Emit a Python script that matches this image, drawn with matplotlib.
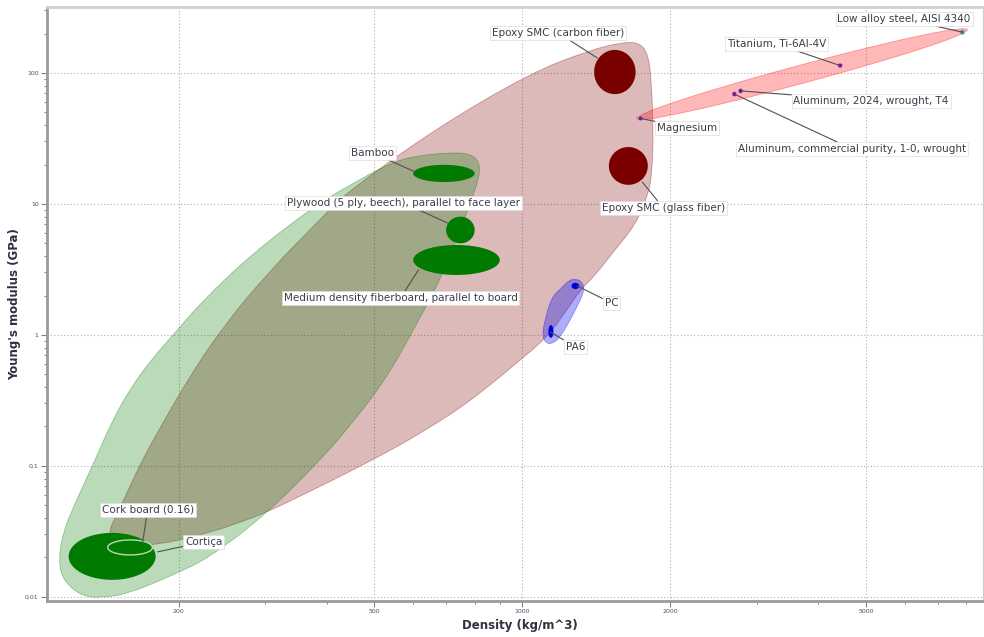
import numpy as np
import matplotlib
matplotlib.use("Agg")
import matplotlib.pyplot as plt
from matplotlib.path import Path
from matplotlib.patches import PathPatch
from matplotlib.ticker import FixedLocator, FixedFormatter, NullFormatter, LogLocator

# ---------------- axes ----------------
x_ticks = [200, 500, 1000, 2000, 5000]
x_tick_labels = ["200", "500", "1000", "2000", "5000"]
y_ticks = [0.01, 0.1, 1, 10, 100]
y_tick_labels = ["0,01", "0,1", "1", "10", "100"]
x_limits = [108, 8650]
y_limits = [0.0093, 319]

# ---------------- family envelopes (outline) ----------------
# Composites / polymers envelope (maroon)
pink_density = [142.1, 152.4, 167.4, 183.8, 208.6, 243.5, 303.3, 401.6, 441.1, 659.7,
                1038.7, 1375.2, 1605.3, 1737.8, 1804.3, 1829.8, 1847.0, 1838.5, 1804.3,
                1697.8, 1531.5, 1408.1, 1312.6, 1223.6, 1124.6, 991.1, 861.1, 748.4,
                650.5, 565.2, 491.2, 413.0, 354.0, 303.3, 258.7, 221.7, 181.3, 156.1]
pink_modulus = [0.0287, 0.0486, 0.1054, 0.1984, 0.4534, 1.092, 2.974, 8.69, 12.35, 36.7,
                100.0, 149.8, 172.4, 169.4, 137.2, 88.4, 36.7, 18.18, 11.71,
                6.91, 4.30, 2.871, 2.205, 1.498, 0.9654, 0.6444, 0.4151, 0.2772,
                0.1984, 0.1446, 0.1092, 0.0782, 0.0590, 0.04456, 0.03545, 0.02974,
                0.02493, 0.02450]

# Natural materials envelope (green)
green_density = [126.4, 116.2, 114.0, 116.2, 120.6, 134.4, 146.2, 159.7, 177.1, 199.1,
                 221.7, 280.1, 385.1, 447.3, 514.6, 584.1, 724.2, 799.0, 825.6, 799.0,
                 748.4, 681.6, 600.6, 526.8, 443.1, 383.3, 303.3, 232.3, 195.4, 157.5,
                 138.8]
green_modulus = [0.01019, 0.01349, 0.01916, 0.02974, 0.04378, 0.1054, 0.2168, 0.3938,
                 0.6675, 1.092, 1.755, 4.08, 10.18, 13.96, 18.83, 22.84, 24.95, 23.66,
                 18.83, 12.13, 6.33, 2.63, 1.092, 0.4534, 0.195, 0.1054, 0.04378,
                 0.02019, 0.01472, 0.01054, 0.00983]

# Polymers envelope (blue)
blue_density = [1246, 1288, 1325, 1337, 1313, 1252, 1195, 1151, 1114, 1098.5, 1109, 1146, 1201]
blue_modulus = [2.630, 2.676, 2.539, 2.205, 1.850, 1.302, 0.9654, 0.8537, 0.8687, 1.0,
                1.257, 1.933, 2.284]

# Metals envelope (red)
metal_env_density = [1690, 1771, 1978, 2503, 3710, 5495, 6960, 7770, 8143,
                     7770, 6960, 5495, 3710, 2503, 1978, 1771]
metal_env_modulus = [44.56, 49.53, 57.88, 76.8, 116.7, 169.4, 205.2, 219.0, 216.7,
                     195.1, 166.8, 125.7, 82.7, 56.96, 47.05, 43.6]

# ---------------- material bubbles (ranges) ----------------
mat_names = ["Cortiça", "Cork board (0.16)", "Bamboo",
             "Plywood (5 ply, beech), parallel to face layer",
             "Medium density fiberboard, parallel to board",
             "Epoxy SMC (carbon fiber)", "Epoxy SMC (glass fiber)", "PC", "PA6"]
mat_density_min = [119.5, 143.5, 600, 700, 600, 1400, 1500, 1259, 1130]
mat_density_max = [179.6, 177.0, 800, 800, 900, 1700, 1800, 1306, 1157]
mat_modulus_min = [0.0135, 0.0209, 14.7, 5.0, 2.87, 69, 14.0, 2.24, 0.95]
mat_modulus_max = [0.0308, 0.0272, 19.9, 8.0, 4.86, 150, 27.2, 2.50, 1.19]
mat_family = ["natural", "natural_hollow", "natural", "natural", "natural",
              "composite", "composite", "polymer", "polymer"]

# Metals (single values)
metal_names = ["Magnesium", "Aluminum, commercial purity, 1-0, wrought",
               "Aluminum, 2024, wrought, T4", "Titanium, Ti-6Al-4V",
               "Low alloy steel, AISI 4340"]
metal_density = [1740, 2700, 2780, 4430, 7850]
metal_modulus = [45, 69, 73, 114, 205]
metal_dot_colors = ["#7d1197", "#7d1197", "#7d1197", "#7d1197", "#2a9a9a"]

# ---------------- labels: text, label centre, leader target ----------------
labels = [
    ("Epoxy SMC (carbon fiber)", 1184, 202, 1421, 130.2),
    ("Low alloy steel, AISI 4340", 5978, 258.4, 7850, 205),
    ("Titanium, Ti-6Al-4V", 3284, 166.5, 4430, 114),
    ("Aluminum, 2024, wrought, T4", 5123, 61.1, 2780, 73),
    ("Aluminum, commercial purity, 1-0, wrought", 4688, 26.3, 2700, 69),
    ("Magnesium", 2166, 38.0, 1740, 45),
    ("Epoxy SMC (glass fiber)", 1936, 9.32, 1754, 14.72),
    ("Bamboo", 495.8, 24.5, 606.3, 17.55),
    ("Plywood (5 ply, beech), parallel to face layer", 573.2, 10.18, 704.2, 7.16),
    ("Medium density fiberboard, parallel to board", 565.2, 1.916, 614.9, 3.135),
    ("PC", 1517.5, 1.755, 1294, 2.366),
    ("PA6", 1282, 0.81, 1140, 1.054),
    ("Cork board (0.16)", 173, 0.0461, 169, 0.0263),
    ("Cortiça", 224.8, 0.0263, 181.3, 0.02206),
]

# ---------------- helpers ----------------
def smooth_closed_path(xs, ys):
    lx = np.log10(np.asarray(xs, float))
    ly = np.log10(np.asarray(ys, float))
    mx = (lx + np.roll(lx, -1)) / 2
    my = (ly + np.roll(ly, -1)) / 2
    verts = [(mx[-1], my[-1])]
    codes = [Path.MOVETO]
    for i in range(len(lx)):
        verts += [(lx[i], ly[i]), (mx[i], my[i])]
        codes += [Path.CURVE3, Path.CURVE3]
    verts = 10 ** np.array(verts)
    return Path(verts, codes)


def ellipse_xy(xmin, xmax, ymin, ymax, n=120):
    t = np.linspace(0, 2 * np.pi, n)
    cx = (np.log10(xmin) + np.log10(xmax)) / 2
    rx = (np.log10(xmax) - np.log10(xmin)) / 2
    cy = (np.log10(ymin) + np.log10(ymax)) / 2
    ry = (np.log10(ymax) - np.log10(ymin)) / 2
    return 10 ** (cx + rx * np.cos(t)), 10 ** (cy + ry * np.sin(t))


# ---------------- figure ----------------
fig = plt.figure(figsize=(9.84, 6.37), dpi=100)
ax = fig.add_axes([0.0478, 0.0565, 0.9512, 0.9325])
ax.set_xscale("log")
ax.set_yscale("log")
ax.set_xlim(*x_limits)
ax.set_ylim(*y_limits)
ax.set_axisbelow(True)

envelopes = [
    (pink_density, pink_modulus, (0.5, 0.0, 0.0), 0.27, 1),
    (green_density, green_modulus, (0.0, 0.47, 0.0), 0.27, 2),
    (blue_density, blue_modulus, (0.0, 0.0, 0.95), 0.32, 3),
    (metal_env_density, metal_env_modulus, (1.0, 0.0, 0.0), 0.28, 3),
]
for xs, ys, col, a, z in envelopes:
    p = smooth_closed_path(xs, ys)
    patch = PathPatch(p, facecolor=(*col, a), edgecolor=(*col, 0.35),
                      lw=0.6, zorder=z)
    ax.add_patch(patch)

fam_colors = {"natural": "#007a00", "composite": "#7a0000", "polymer": "#0000dd"}
for i in range(len(mat_names)):
    ex, ey = ellipse_xy(mat_density_min[i], mat_density_max[i],
                        mat_modulus_min[i], mat_modulus_max[i])
    fam = mat_family[i]
    if fam == "natural_hollow":
        ax.plot(ex, ey, color="#b8dcb0", lw=1.0, zorder=6)
    else:
        ax.fill(ex, ey, color=fam_colors[fam], lw=0, zorder=5)

ax.scatter(metal_density, metal_modulus, s=12, c=metal_dot_colors,
           edgecolors="#e0b0e0", linewidths=0.4, zorder=6)

for text, tx, ty, px, py in labels:
    ax.annotate(text, xy=(px, py), xytext=(tx, ty), ha="center", va="center",
                fontsize=7.5, color="#3c3c4a", zorder=8,
                bbox=dict(boxstyle="square,pad=0.18", fc="white", ec="#dcdcdc", lw=0.5),
                arrowprops=dict(arrowstyle="-", color="#505050", lw=0.8,
                                shrinkA=0, shrinkB=0))

# ticks & grid
ax.xaxis.set_major_locator(FixedLocator(x_ticks))
ax.xaxis.set_major_formatter(FixedFormatter(x_tick_labels))
ax.yaxis.set_major_locator(FixedLocator(y_ticks))
ax.yaxis.set_major_formatter(FixedFormatter(y_tick_labels))
ax.xaxis.set_minor_locator(LogLocator(base=10, subs=np.arange(2, 10)))
ax.yaxis.set_minor_locator(LogLocator(base=10, subs=np.arange(2, 10)))
ax.xaxis.set_minor_formatter(NullFormatter())
ax.yaxis.set_minor_formatter(NullFormatter())
ax.tick_params(which="major", direction="out", length=4, width=0.8, color="#808080",
               labelsize=4.5, labelcolor="#505060", pad=2)
ax.tick_params(which="minor", direction="out", length=2.5, width=0.7, color="#808080")
ax.grid(True, which="major", linestyle=(0, (1, 2)), color="#b0b0b0", lw=0.8)

for side in ["left", "bottom"]:
    ax.spines[side].set_color("#9a9a9a")
    ax.spines[side].set_linewidth(2)
ax.spines["top"].set_color("#d0d0d0")
ax.spines["top"].set_linewidth(2)
ax.spines["right"].set_color("#d0d0d0")
ax.spines["right"].set_linewidth(1)

ax.set_xlabel("Density (kg/m^3)", fontsize=8.5, fontweight="bold", color="#303040")
ax.set_ylabel("Young's modulus (GPa)", fontsize=8.5, fontweight="bold", color="#303040")
ax.xaxis.set_label_coords(0.505, -0.030)
ax.yaxis.set_label_coords(-0.028, 0.5)

fig.savefig("out.png", dpi=100)
